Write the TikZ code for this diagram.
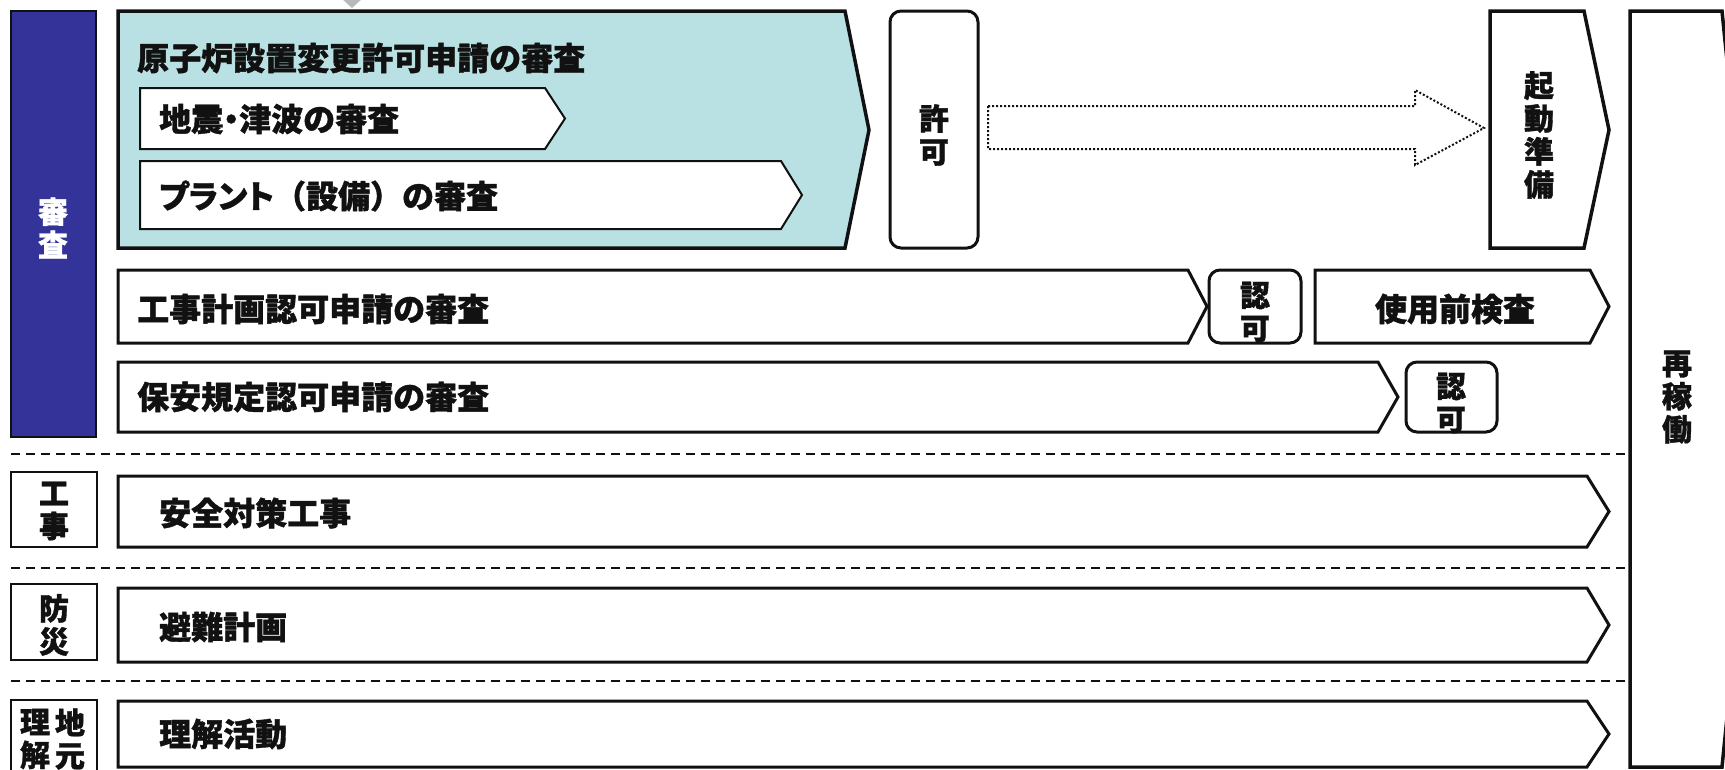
\documentclass[tikz,border=0pt]{standalone}
\usepackage{fontspec}
\newfontfamily\jp{Noto Sans CJK JP}[BoldFeatures={FakeBold=1.2}]
\newfontfamily\jpp{Noto Sans CJK JP}[RawFeature=+palt,BoldFeatures={FakeBold=1.2}]
\definecolor{tealbg}{RGB}{185,224,227}
\definecolor{navy}{RGB}{51,51,153}
\definecolor{ink}{RGB}{17,17,17}
\begin{document}
\begin{tikzpicture}[x=1pt,y=-1pt,
  thick arrow/.style={draw=ink,line width=3pt,fill=white,line join=miter},
  sub arrow/.style={draw=ink,line width=2pt,fill=white,line join=miter},
  rbox/.style={draw=ink,line width=3pt,rounded corners=11pt,fill=white},
  sbox/.style={draw=ink,line width=1.5pt,fill=white},
  sepline/.style={draw=ink,line width=2pt,dash pattern=on 9pt off 6pt},
  lbl/.style={font=\jp\bfseries\fontsize{32}{34}\selectfont,anchor=west,inner sep=0pt,text=ink},
  vlbl/.style={font=\jp\bfseries\fontsize{30}{33}\selectfont,align=center,inner sep=0pt,text=ink},
]
\useasboundingbox (0,0) rectangle (1725,769);
\clip (0,0) rectangle (1725,769);

% small gray triangle at the top
\fill[gray!55] (341,-2) -- (363,-2) -- (352,8) -- cycle;

% review column
\draw[draw=ink,line width=1.5pt,fill=navy] (11,11) rectangle (96,437);
\node[vlbl,text=white] (shinsa) at (53,228) {審\\査};

% reactor change permit review (teal)
\draw[draw=ink,line width=3.5pt,fill=tealbg,line join=miter]
  (118,11) -- (845,11) -- (869,130) -- (845,248) -- (118,248) -- cycle;
\node[lbl] (genshiro) at (137,58) {原子炉設置変更許可申請の審査};
\draw[sub arrow] (140,88) -- (545,88) -- (565,118.5) -- (545,149) -- (140,149) -- cycle;
\node[lbl] (jishin) at (159,119) {地震{\jpp\bfseries ・}津波の審査};
\draw[sub arrow] (140,161) -- (781,161) -- (802,195) -- (781,229) -- (140,229) -- cycle;
\node[lbl] (plant) at (159,196) {{\jpp\bfseries プラント}（設備）の審査};

% permit
\draw[rbox] (890,11) rectangle (978,248);
\node[vlbl] (kyoka) at (934,135) {許\\可};

% dotted arrow
\draw[draw=ink,line width=2pt,dash pattern=on 2pt off 2pt,fill=white,line join=miter]
  (988,106) -- (1415,106) -- (1415,90) -- (1484,128) -- (1415,165) -- (1415,149) -- (988,149) -- cycle;

% start-up preparation
\draw[draw=ink,line width=3.5pt,fill=white,line join=miter]
  (1490,11) -- (1584,11) -- (1609,130) -- (1584,248) -- (1490,248) -- cycle;
\node[vlbl] (kido) at (1539,135) {起\\動\\準\\備};

% restart
\draw[draw=ink,line width=3.5pt,fill=white,line join=miter]
  (1630,11) -- (1722,11) -- (1760,389) -- (1722,767) -- (1630,767) -- cycle;
\node[vlbl] (saikado) at (1677,397) {再\\稼\\働};

% construction plan approval
\draw[thick arrow] (118,270) -- (1188,270) -- (1207,306.5) -- (1188,343) -- (118,343) -- cycle;
\node[lbl] (kouji) at (137,309) {工事計画認可申請の審査};
\draw[rbox] (1209,270) rectangle (1301,343);
\node[vlbl] (ninka1) at (1255,312) {認\\可};
\draw[thick arrow] (1315,270) -- (1590,270) -- (1609,306.5) -- (1590,343) -- (1315,343) -- cycle;
\node[lbl,anchor=center] (shiyou) at (1455,309) {使用前検査};

% safety regulations approval
\draw[thick arrow] (118,362) -- (1378,362) -- (1398,397) -- (1378,432) -- (118,432) -- cycle;
\node[lbl] (hoan) at (137,397) {保安規定認可申請の審査};
\draw[rbox] (1406,362) rectangle (1497,432);
\node[vlbl] (ninka2) at (1451,403) {認\\可};

% separators
\draw[sepline] (11,453.5) -- (1630,453.5);
\draw[sepline] (11,567.5) -- (1630,567.5);
\draw[sepline] (11,681) -- (1630,681);

% construction
\draw[sbox] (11,472) rectangle (97,547);
\node[vlbl] (koujiL) at (54,511) {工\\事};
\draw[thick arrow] (118,476) -- (1587,476) -- (1609,511.5) -- (1587,547) -- (118,547) -- cycle;
\node[lbl] (anzen) at (159,513) {安全対策工事};

% disaster prevention
\draw[sbox] (11,584) rectangle (97,660);
\node[vlbl] (bousai) at (54,625) {防\\災};
\draw[thick arrow] (118,588) -- (1587,588) -- (1609,625) -- (1587,662) -- (118,662) -- cycle;
\node[lbl] (hinan) at (159,627) {避難計画};

% local understanding
\draw[sbox] (11,700) rectangle (97,775);
\node[vlbl] (jimotoR) at (70,739) {地\\元};
\node[vlbl] (jimotoL) at (35,739) {理\\解};
\draw[thick arrow] (118,701) -- (1587,701) -- (1609,734) -- (1587,767) -- (118,767) -- cycle;
\node[lbl] (rikai) at (159,734) {理解活動};
\end{tikzpicture}
\end{document}
